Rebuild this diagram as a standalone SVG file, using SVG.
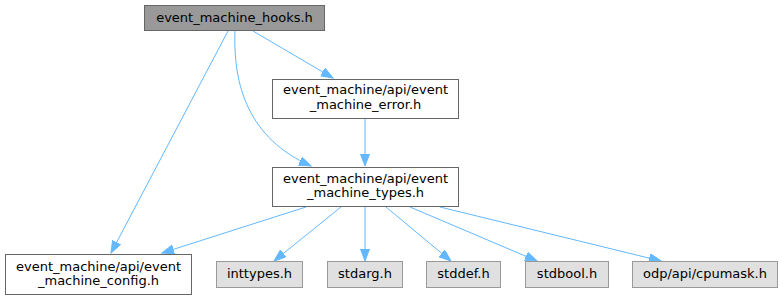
<svg xmlns="http://www.w3.org/2000/svg" width="783" height="300" viewBox="0 0 783 300">
<style>
text{font-family:"DejaVu Sans",sans-serif;font-size:13px;fill:#000;text-anchor:middle}
.w{fill:#fff;stroke:#666;stroke-width:1}
.g{fill:#e0e0e0;stroke:#999;stroke-width:1}
.m{fill:#999;stroke:#666;stroke-width:1}
.e{fill:none;stroke:#63b8ff;stroke-width:1}
</style>
<defs>
<marker id="a" markerWidth="13" markerHeight="10" refX="12" refY="4.5" orient="auto" markerUnits="userSpaceOnUse">
<path d="M0,0 L12,4.5 L0,9 z" fill="#63b8ff" stroke="#63b8ff"/>
</marker>
</defs>
<g id="edges">
<path class="e" marker-end="url(#a)" d="M253,31 L333,78"/>
<path class="e" marker-end="url(#a)" d="M235,31 C233,85 248,138 311,166"/>
<path class="e" marker-end="url(#a)" d="M228,31 L111,253"/>
<path class="e" marker-end="url(#a)" d="M365,118 L365,166"/>
<path class="e" marker-end="url(#a)" d="M306,207 L162,253"/>
<path class="e" marker-end="url(#a)" d="M341,207 L274,261"/>
<path class="e" marker-end="url(#a)" d="M365,207 L365,261"/>
<path class="e" marker-end="url(#a)" d="M386,207 L451,261"/>
<path class="e" marker-end="url(#a)" d="M410,207 L537,261"/>
<path class="e" marker-end="url(#a)" d="M440,207 L661,261"/>
</g>
<g id="hooks"><rect class="m" x="144.5" y="5.5" width="180" height="25"/><text x="234.5" y="22">event_machine_hooks.h</text></g>
<g id="error"><rect class="w" x="272.5" y="79.5" width="186" height="39"/><text x="365.5" y="94">event_machine/api/event</text><text x="365.5" y="109">_machine_error.h</text></g>
<g id="types"><rect class="w" x="272.5" y="167.5" width="186" height="39"/><text x="365.5" y="183">event_machine/api/event</text><text x="365.5" y="197">_machine_types.h</text></g>
<g id="config"><rect class="w" x="5.5" y="254.5" width="186" height="40"/><text x="98.5" y="271">event_machine/api/event</text><text x="98.5" y="285">_machine_config.h</text></g>
<g id="inttypes"><rect class="g" x="216.5" y="261.5" width="86" height="26"/><text x="259.5" y="278">inttypes.h</text></g>
<g id="stdarg"><rect class="g" x="327.5" y="261.5" width="75" height="26"/><text x="365" y="278">stdarg.h</text></g>
<g id="stddef"><rect class="g" x="426.5" y="261.5" width="74" height="26"/><text x="463.5" y="278">stddef.h</text></g>
<g id="stdbool"><rect class="g" x="525.5" y="261.5" width="83" height="26"/><text x="567" y="278">stdbool.h</text></g>
<g id="cpumask"><rect class="g" x="632.5" y="261.5" width="145" height="26"/><text x="705" y="278">odp/api/cpumask.h</text></g>
</svg>
